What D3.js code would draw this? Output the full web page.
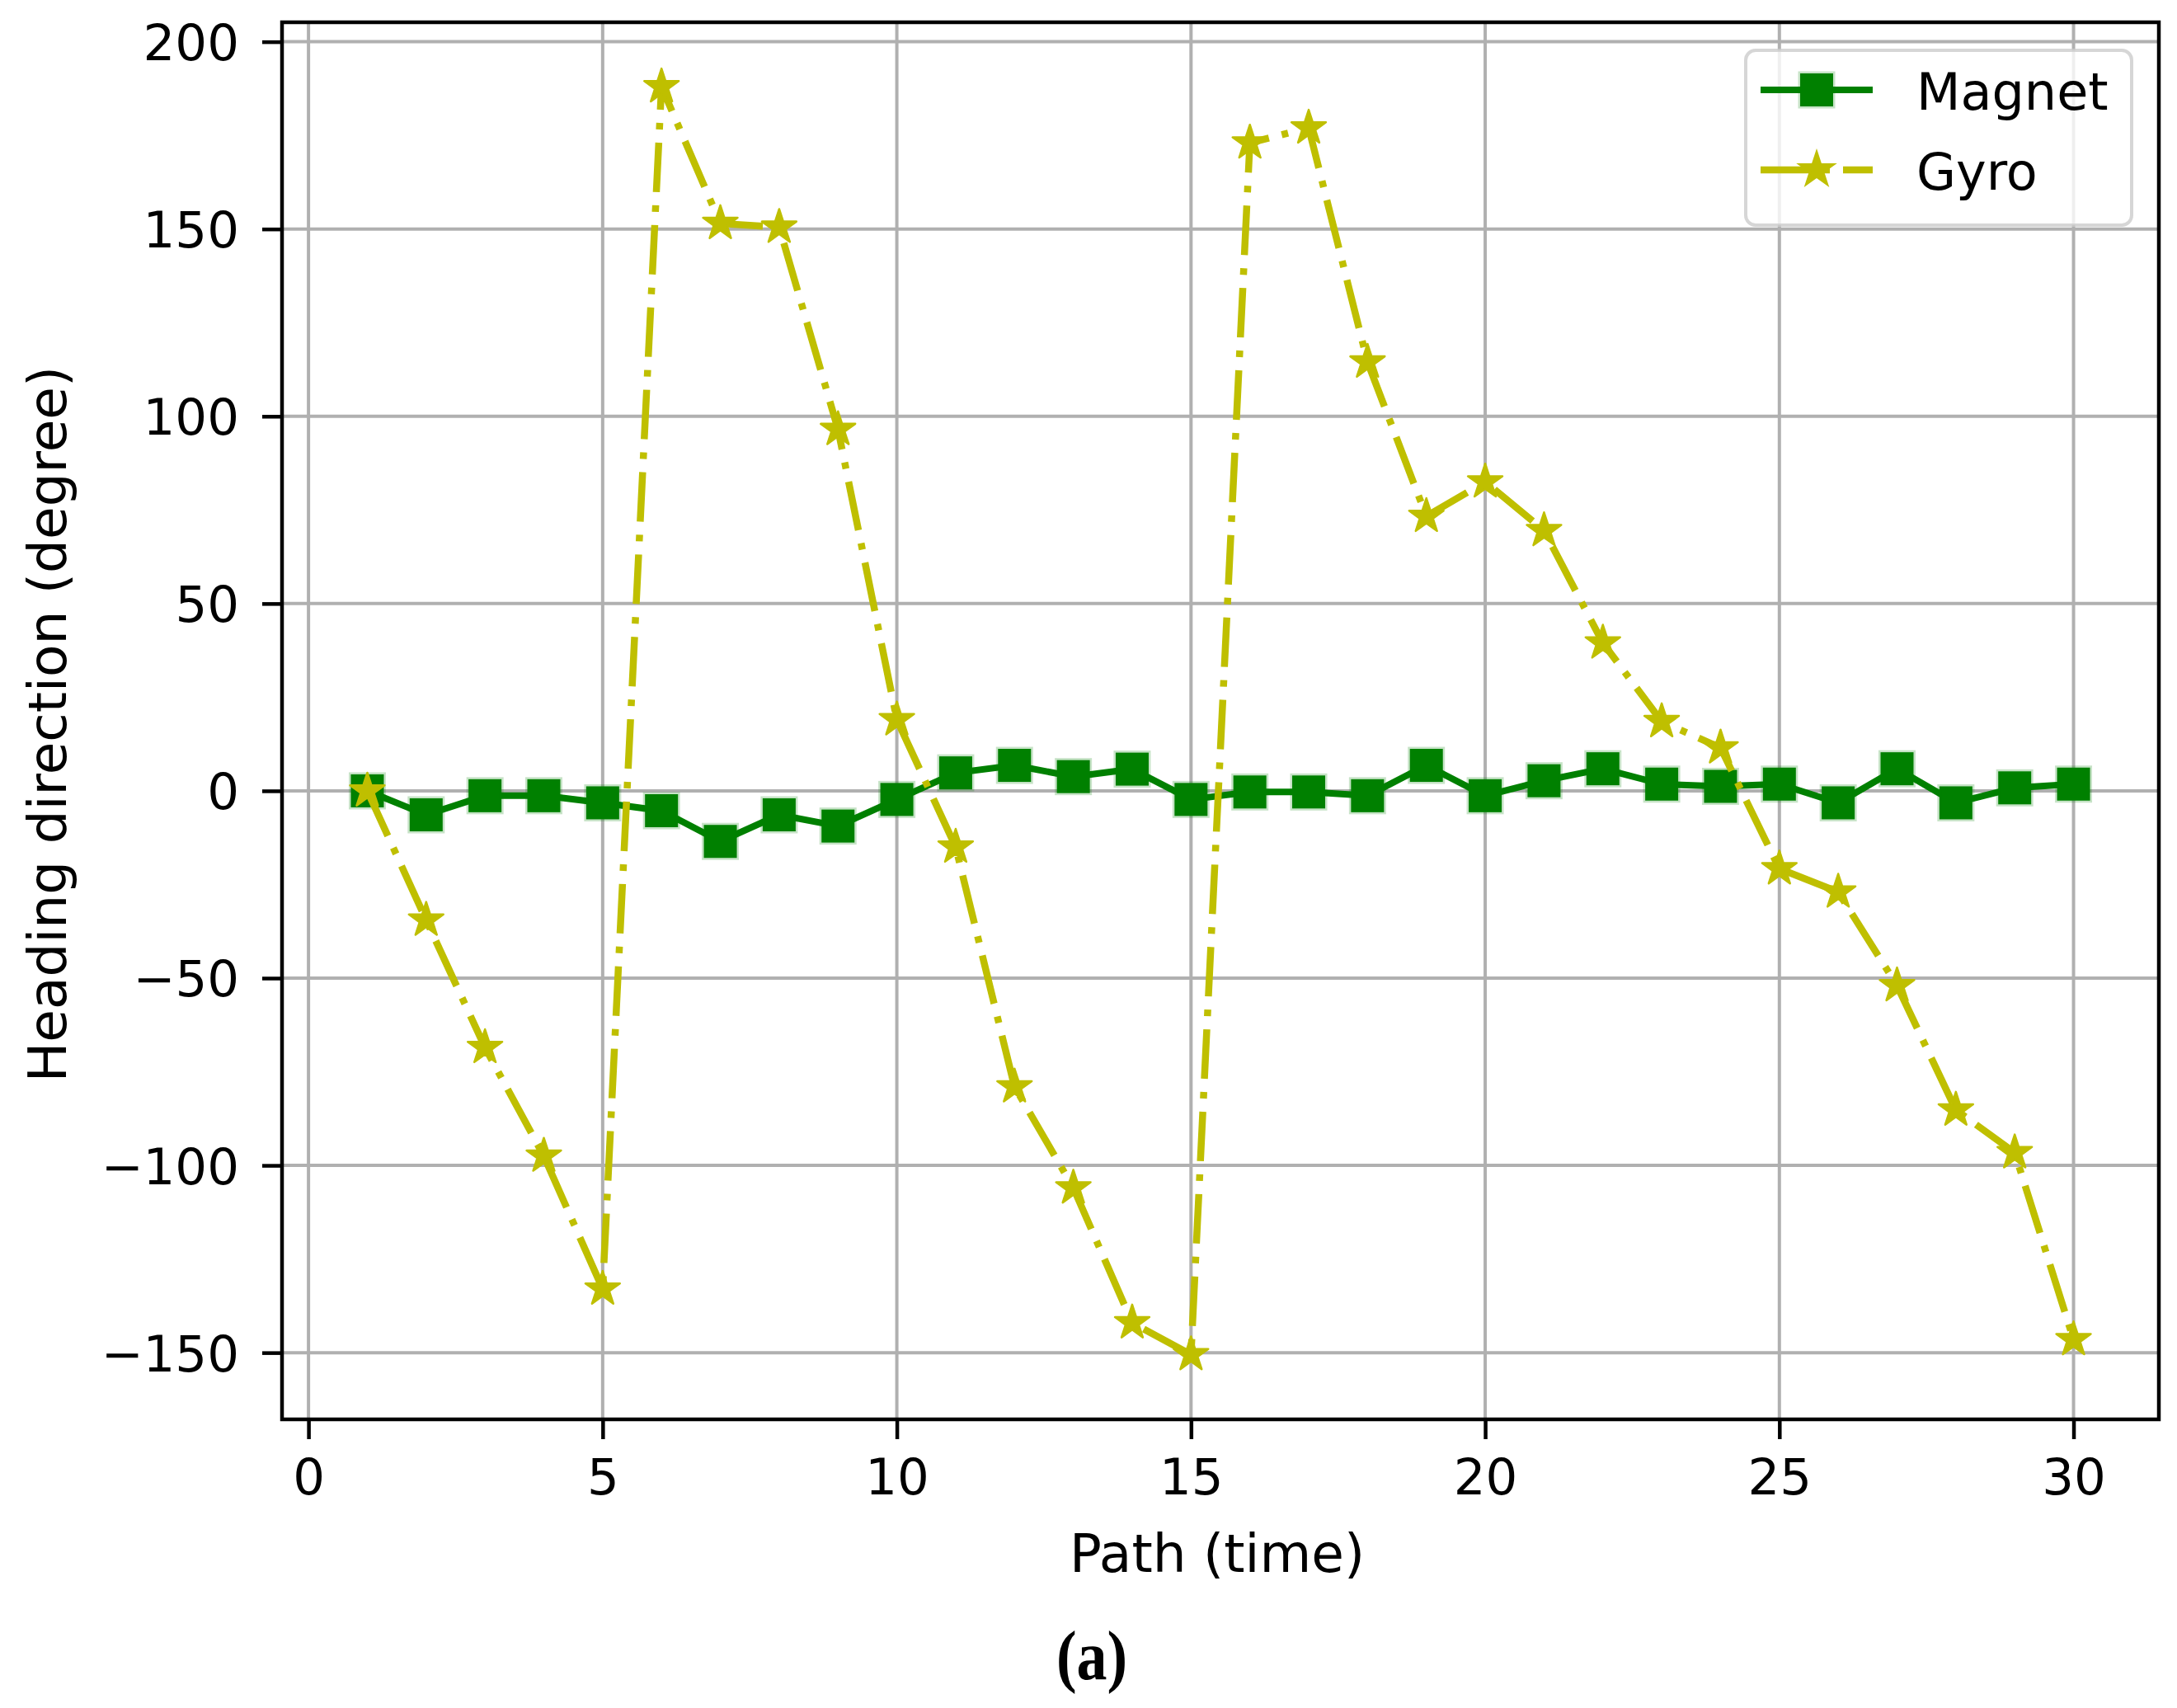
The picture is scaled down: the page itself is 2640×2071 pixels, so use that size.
<!DOCTYPE html>
<html>
<head>
<meta charset="utf-8">
<title>Heading direction: Magnet vs Gyro</title>
<style>
body { margin: 0; background: #ffffff; }
svg { display: block; font-family: 'DejaVu Sans', sans-serif; }
.axis path { display: none; }
.axis line { stroke: #000000; stroke-width: 4.5px; }
.axis text { font-size: 61px; fill: #000000; font-family: 'DejaVu Sans', sans-serif; }
.grid line { stroke: #b0b0b0; stroke-width: 4px; }
.label { font-size: 62px; fill: #000000; }
.axlabel { font-size: 64.5px; fill: #000000; }
</style>
</head>
<body>
<script src="https://d3js.org/d3.v7.min.js"></script>
<script>
'use strict';
// data
const steps = d3.range(1, 31);
const magnet = [0, -6.4, -1.3, -1.3, -3.2, -5.3, -13.5, -6.4, -9.4, -2.3,
	4.8, 6.8, 3.8, 5.8, -2.3, -0.3, -0.3, -1.3, 6.8, -1.3,
	2.7, 5.9, 1.8, 1.2, 1.8, -3.2, 5.9, -3.2, 0.8, 1.8];
const gyro = [0, -34.5, -68.5, -97.5, -133, 188, 151.5, 150.5, 96.5, 19,
	-15, -79, -106, -142, -150.5, 173, 177, 114.5, 73.3, 82.5,
	69.5, 39.5, 18.5, 11.5, -20.8, -27, -52, -85.2, -96.6, -146.5];
const seriesNames = ['Magnet', 'Gyro'];
const xTicks = [0, 5, 10, 15, 20, 25, 30];
const xTickLabels = ['0', '5', '10', '15', '20', '25', '30'];
const yTicks = [-150, -100, -50, 0, 50, 100, 150, 200];
const yTickLabels = ['\u2212150', '\u2212100', '\u221250', '0', '50', '100', '150', '200'];

const W = 2640, H = 2071;
const margin = {top: 27, right: 22, bottom: 350, left: 342};
const width = W - margin.left - margin.right;
const height = H - margin.top - margin.bottom;

const green = '#008000';
const olive = '#bfbf00';

const x = d3.scaleLinear().domain([-0.45, 31.45]).range([0, width]);
const y = d3.scaleLinear().domain([-167.8, 205.2]).range([height, 0]);

const svg = d3.select('body').append('svg')
	.attr('width', W)
	.attr('height', H);

const g = svg.append('g')
	.attr('transform', 'translate(' + margin.left + ',' + margin.top + ')');

// grid
const grid = g.append('g').attr('class', 'grid');
grid.selectAll('.gx').data(xTicks).enter().append('line')
	.attr('x1', d => x(d)).attr('x2', d => x(d))
	.attr('y1', 0).attr('y2', height);
grid.selectAll('.gy').data(yTicks).enter().append('line')
	.attr('x1', 0).attr('x2', width)
	.attr('y1', d => y(d)).attr('y2', d => y(d));

// axes
g.append('g')
	.attr('class', 'x axis')
	.attr('transform', 'translate(0,' + height + ')')
	.call(d3.axisBottom(x)
		.tickValues(xTicks)
		.tickFormat((d, i) => xTickLabels[i])
		.tickSize(24)
		.tickPadding(24));

g.append('g')
	.attr('class', 'y axis')
	.call(d3.axisLeft(y)
		.tickValues(yTicks)
		.tickFormat((d, i) => yTickLabels[i])
		.tickSize(24)
		.tickPadding(28))
	.selectAll('text').attr('dy', '0.36em');

// lines
const line = d3.line()
	.x((d, i) => x(steps[i]))
	.y(d => y(d));

g.append('path')
	.datum(magnet)
	.attr('fill', 'none')
	.attr('stroke', green)
	.attr('stroke-width', 8)
	.attr('stroke-linejoin', 'round')
	.attr('d', line);

const sq = 40;
g.selectAll('.sq').data(magnet).enter().append('rect')
	.attr('x', (d, i) => x(steps[i]) - sq / 2)
	.attr('y', d => y(d) - sq / 2)
	.attr('width', sq).attr('height', sq)
	.attr('fill', green)
	.attr('stroke', 'rgba(0,128,0,0.22)')
	.attr('stroke-width', 5);

g.append('path')
	.datum(gyro)
	.attr('fill', 'none')
	.attr('stroke', olive)
	.attr('stroke-width', 8.5)
	.attr('stroke-dasharray', '60,16,8,16')
	.attr('d', line);

function starPath(R) {
	const r = R * 0.382;
	const pts = d3.range(10).map(function (i) {
		const a = -Math.PI / 2 + i * Math.PI / 5;
		const rad = i % 2 ? r : R;
		return [rad * Math.cos(a), rad * Math.sin(a)];
	});
	return 'M' + pts.map(p => p[0].toFixed(2) + ',' + p[1].toFixed(2)).join('L') + 'Z';
}
const star = starPath(22);

g.selectAll('.st').data(gyro).enter().append('path')
	.attr('d', star)
	.attr('transform', (d, i) => 'translate(' + x(steps[i]) + ',' + y(d) + ')')
	.attr('fill', olive)
	.attr('stroke', olive)
	.attr('stroke-width', 2.5)
	.attr('stroke-linejoin', 'round');

// frame
g.append('rect')
	.attr('width', width).attr('height', height)
	.attr('fill', 'none')
	.attr('stroke', '#000000')
	.attr('stroke-width', 4.5);

// legend
const lg = g.append('g').attr('transform', 'translate(' + (2117 - margin.left) + ',' + (61 - margin.top) + ')');
lg.append('rect')
	.attr('width', 468).attr('height', 212)
	.attr('rx', 12).attr('ry', 12)
	.attr('fill', '#ffffff').attr('fill-opacity', 0.8)
	.attr('stroke', '#cccccc').attr('stroke-opacity', 0.8)
	.attr('stroke-width', 4);

const rowY = [48, 145];
seriesNames.forEach(function (name, i) {
	const row = lg.append('g').attr('transform', 'translate(0,' + rowY[i] + ')');
	const ln = row.append('line')
		.attr('x1', 18).attr('x2', 154)
		.attr('y1', 0).attr('y2', 0)
		.attr('stroke-width', i === 0 ? 8 : 8.5)
		.attr('stroke', i === 0 ? green : olive);
	if (i === 0) {
		row.append('rect')
			.attr('x', 86 - sq / 2).attr('y', -sq / 2)
			.attr('width', sq).attr('height', sq)
			.attr('fill', green)
			.attr('stroke', 'rgba(0,128,0,0.22)')
			.attr('stroke-width', 5);
	} else {
		ln.attr('stroke-dasharray', '60,16,8,16');
		row.append('path')
			.attr('d', star)
			.attr('transform', 'translate(86,0)')
			.attr('fill', olive)
			.attr('stroke', olive)
			.attr('stroke-width', 2.5);
	}
	row.append('text')
		.attr('class', 'label')
		.attr('x', 207).attr('y', 24)
		.text(name);
});

// axis labels
svg.append('text')
	.attr('class', 'axlabel')
	.attr('text-anchor', 'middle')
	.attr('x', margin.left + width / 2 - 4)
	.attr('y', 1906)
	.text('Path (time)');

svg.append('text')
	.attr('class', 'axlabel')
	.attr('text-anchor', 'middle')
	.attr('transform', 'translate(80,' + (margin.top + height / 2 + 4) + ') rotate(-90)')
	.text('Heading direction (degree)');

// panel caption
svg.append('text')
	.attr('text-anchor', 'middle')
	.attr('transform', 'translate(1324,2036) scale(0.88,1)')
	.style('font-family', "'Liberation Serif', serif")
	.style('font-weight', 'bold')
	.style('font-size', '84px')
	.text('(a)');
</script>
</body>
</html>
